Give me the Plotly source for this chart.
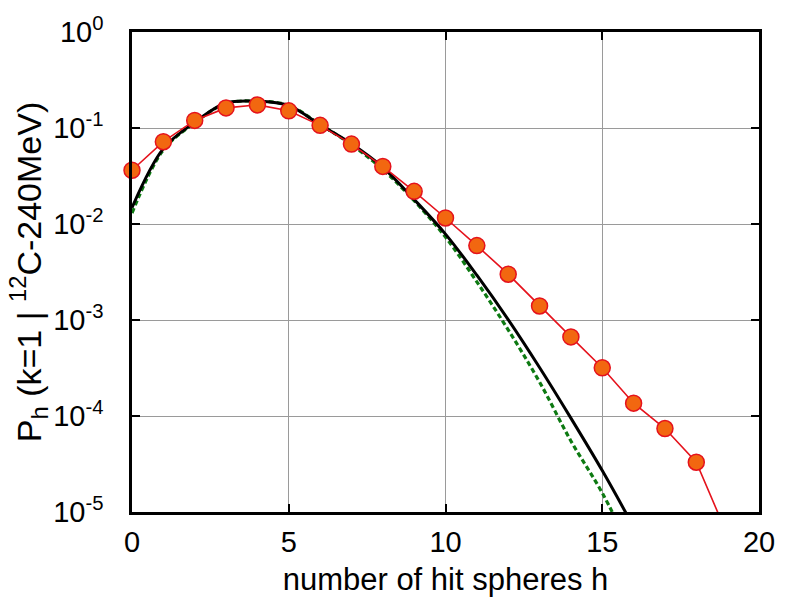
import plotly.graph_objects as go

# hit-sphere multiplicity h
h_points = list(range(0, 20))
# measured-style distribution (markers)
p_markers = [0.0363, 0.072, 0.120, 0.162, 0.174, 0.151, 0.1066, 0.068, 0.0398,
             0.0219, 0.01155, 0.00596, 0.0030, 0.0014, 0.000667, 0.000318,
             0.000136, 7.4e-5, 3.3e-5, 5.7e-6]

h_curves = list(range(0, 17))
# solid model curve
p_solid = [0.0148, 0.061, 0.1145, 0.182, 0.190, 0.171, 0.108, 0.0686, 0.039,
           0.018, 0.00785, 0.00293, 0.00101, 3.2e-4, 9.5e-5, 2.7e-5, 7e-6]
# dashed model curve
p_dashed = [0.013, 0.059, 0.113, 0.180, 0.190, 0.172, 0.109, 0.067, 0.037,
            0.0175, 0.0073, 0.0025, 7.9e-4, 2.26e-4, 5.5e-5, 1.58e-5, 3.5e-6]

x_ticks = [0, 5, 10, 15, 20]
y_tickvals = [1, 1e-1, 1e-2, 1e-3, 1e-4, 1e-5]
y_ticktext = ["10<sup>0</sup>", "10<sup>-1</sup>", "10<sup>-2</sup>",
              "10<sup>-3</sup>", "10<sup>-4</sup>", "10<sup>-5</sup>"]

Y_MIN = 1e-5
FONT = "Liberation Sans, Arial, sans-serif"
RED = "#e5121c"

fig = go.Figure()

fig.add_trace(go.Scatter(
    x=h_curves, y=p_dashed, mode="lines", line_shape="spline",
    line=dict(color="#0d7a12", width=3.2, dash="5px,3px"), showlegend=False))

fig.add_trace(go.Scatter(
    x=h_curves, y=p_solid, mode="lines", line_shape="spline",
    line=dict(color="black", width=3), showlegend=False))

# connecting line runs through every point (clipped at the frame)
fig.add_trace(go.Scatter(
    x=h_points, y=p_markers, mode="lines",
    line=dict(color=RED, width=1.6), showlegend=False))

# markers for the points inside the plotted range, drawn unclipped
vis = [(h, p) for h, p in zip(h_points, p_markers) if p >= Y_MIN]
fig.add_trace(go.Scatter(
    x=[v[0] for v in vis], y=[v[1] for v in vis], mode="markers",
    marker=dict(size=16, color="#f26710", line=dict(color=RED, width=1.5)),
    cliponaxis=False, showlegend=False))

axis_common = dict(
    showline=True, linecolor="black", linewidth=2.5, mirror="ticks",
    ticks="inside", ticklen=8, tickwidth=2, tickcolor="black",
    showgrid=True, gridcolor="#9a9a9a", gridwidth=1,
    zeroline=False,
    tickfont=dict(family=FONT, size=29, color="black"),
)

fig.update_xaxes(
    range=[0, 20], tickvals=x_ticks, ticktext=[str(v) for v in x_ticks],
    ticklabelstandoff=2,
    title=dict(text="number of hit spheres h", font=dict(family=FONT, size=31, color="black"),
               standoff=12),
    **axis_common)

fig.update_yaxes(
    type="log", range=[-5, 0], tickvals=y_tickvals, ticktext=y_ticktext,
    ticklabelstandoff=20,
    title=dict(text="P<sub>h</sub> (k=1 | <sup>12</sup>C-240MeV)",
               font=dict(family=FONT, size=34, color="black"), standoff=2),
    **axis_common)

fig.update_layout(
    width=787, height=606,
    margin=dict(l=132, r=21, t=25, b=94),
    paper_bgcolor="white", plot_bgcolor="white",
    font=dict(family=FONT, color="black"),
)

fig.write_html("out.html")
